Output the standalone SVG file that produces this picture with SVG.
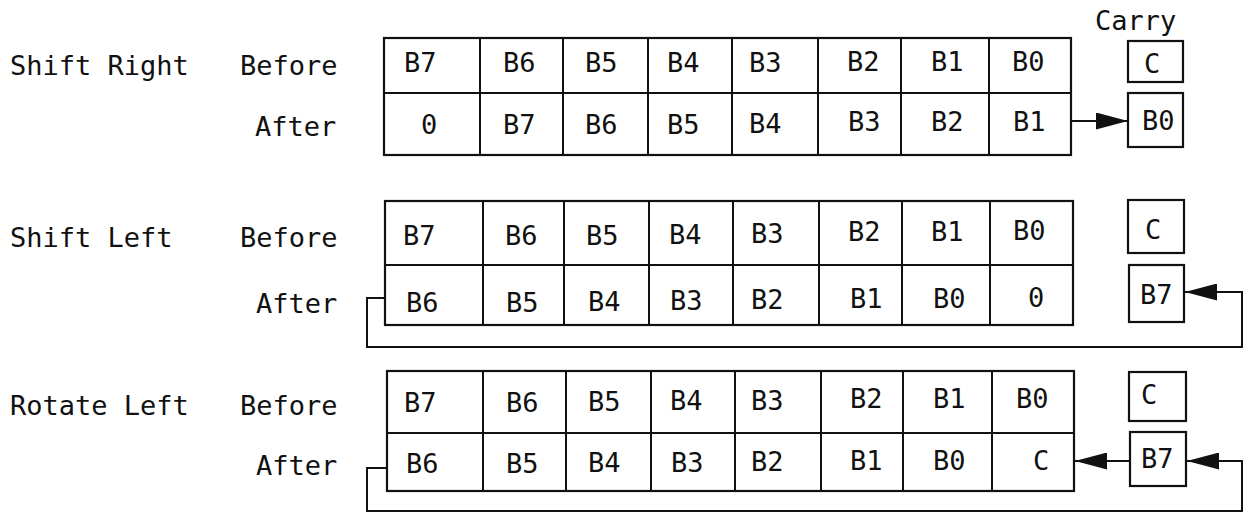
<svg xmlns="http://www.w3.org/2000/svg" width="1248" height="518" viewBox="0 0 1248 518">
<style>
  text { font-family: "DejaVu Sans Mono", "Liberation Mono", monospace; font-size: 27px; fill: #111; }
  .box { fill: #fff; stroke: #111; stroke-width: 2.2; }
  .grid { stroke: #111; stroke-width: 2; fill: none; }
  .wire { stroke: #111; stroke-width: 2; fill: none; }
</style>
<defs>
  <marker id="ah" markerUnits="userSpaceOnUse" markerWidth="32" markerHeight="17" refX="32" refY="8.5" orient="auto">
    <path d="M0,0 L32,8.5 L0,17 z" fill="#111"/>
  </marker>
</defs>
<rect width="1248" height="518" fill="#fff"/>

<!-- Labels -->
<g id="labels">
  <text x="10" y="75">Shift Right</text>
  <text x="240" y="75">Before</text>
  <text x="255" y="136">After</text>
  <text x="1095" y="30">Carry</text>
  <text x="10" y="247">Shift Left</text>
  <text x="240" y="247">Before</text>
  <text x="256" y="313">After</text>
  <text x="10" y="415">Rotate Left</text>
  <text x="240" y="415">Before</text>
  <text x="256" y="475">After</text>
</g>

<!-- Shift Right register -->
<g id="shift-right-register">
  <rect class="box" x="384" y="38" width="687" height="117"/>
  <path class="grid" d="M384,93 H1071 M480,38 V155 M563,38 V155 M648,38 V155 M732,38 V155 M818,38 V155 M901,38 V155 M989,38 V155"/>
  <text x="404" y="72">B7</text><text x="503" y="72">B6</text><text x="585" y="72">B5</text><text x="667" y="72">B4</text>
  <text x="749" y="72">B3</text><text x="847" y="71">B2</text><text x="931" y="71">B1</text><text x="1012" y="71">B0</text>
  <text x="421" y="134">0</text><text x="503" y="134">B7</text><text x="585" y="134">B6</text><text x="667" y="134">B5</text>
  <text x="749" y="133">B4</text><text x="848" y="131">B3</text><text x="931" y="131">B2</text><text x="1013" y="131">B1</text>
</g>
<g id="shift-right-carry-before">
  <rect class="box" x="1128" y="41" width="55" height="41"/>
  <text x="1144" y="73">C</text>
</g>
<g id="shift-right-carry-after">
  <rect class="box" x="1128" y="93" width="55" height="54"/>
  <text x="1142" y="130">B0</text>
</g>

<!-- Shift Left register -->
<g id="shift-left-register">
  <rect class="box" x="385" y="201" width="688" height="124"/>
  <path class="grid" d="M385,265 H1073 M483,201 V325 M564,201 V325 M649,201 V325 M733,201 V325 M819,201 V325 M902,201 V325 M990,201 V325"/>
  <text x="403" y="245">B7</text><text x="505" y="245">B6</text><text x="586" y="245">B5</text><text x="669" y="244">B4</text>
  <text x="751" y="243">B3</text><text x="848" y="241">B2</text><text x="931" y="241">B1</text><text x="1013" y="240">B0</text>
  <text x="406" y="312">B6</text><text x="506" y="312">B5</text><text x="588" y="311">B4</text><text x="670" y="310">B3</text>
  <text x="751" y="309">B2</text><text x="850" y="308">B1</text><text x="933" y="308">B0</text><text x="1028" y="307">0</text>
</g>
<g id="shift-left-carry-before">
  <rect class="box" x="1128" y="200" width="56" height="53"/>
  <text x="1145" y="239">C</text>
</g>
<g id="shift-left-carry-after">
  <rect class="box" x="1129" y="265" width="55" height="57"/>
  <text x="1140" y="304">B7</text>
</g>

<!-- Rotate Left register -->
<g id="rotate-left-register">
  <rect class="box" x="387" y="371" width="687" height="120"/>
  <path class="grid" d="M387,433 H1074 M483,371 V491 M566,371 V491 M651,371 V491 M735,371 V491 M821,371 V491 M903,371 V491 M992,371 V491"/>
  <text x="404" y="412">B7</text><text x="506" y="412">B6</text><text x="588" y="411">B5</text><text x="670" y="410">B4</text>
  <text x="751" y="410">B3</text><text x="850" y="408">B2</text><text x="933" y="408">B1</text><text x="1016" y="408">B0</text>
  <text x="406" y="473">B6</text><text x="506" y="473">B5</text><text x="588" y="472">B4</text><text x="671" y="472">B3</text>
  <text x="751" y="471">B2</text><text x="850" y="470">B1</text><text x="933" y="470">B0</text><text x="1033" y="470">C</text>
</g>
<g id="rotate-left-carry-before">
  <rect class="box" x="1129" y="372" width="57" height="49"/>
  <text x="1141" y="404">C</text>
</g>
<g id="rotate-left-carry-after">
  <rect class="box" x="1130" y="432" width="56" height="54"/>
  <text x="1141" y="468">B7</text>
</g>

<!-- Connectors -->
<g id="connectors">
  <path class="wire" d="M1071,121 H1128" marker-end="url(#ah)"/>
  <path class="wire" d="M385,298 H367 V347 H1242 V292 H1185" marker-end="url(#ah)"/>
  <path class="wire" d="M387,468 H367 V511 H1242 V461 H1187" marker-end="url(#ah)"/>
  <path class="wire" d="M1130,461 H1075" marker-end="url(#ah)"/>
</g>
</svg>
